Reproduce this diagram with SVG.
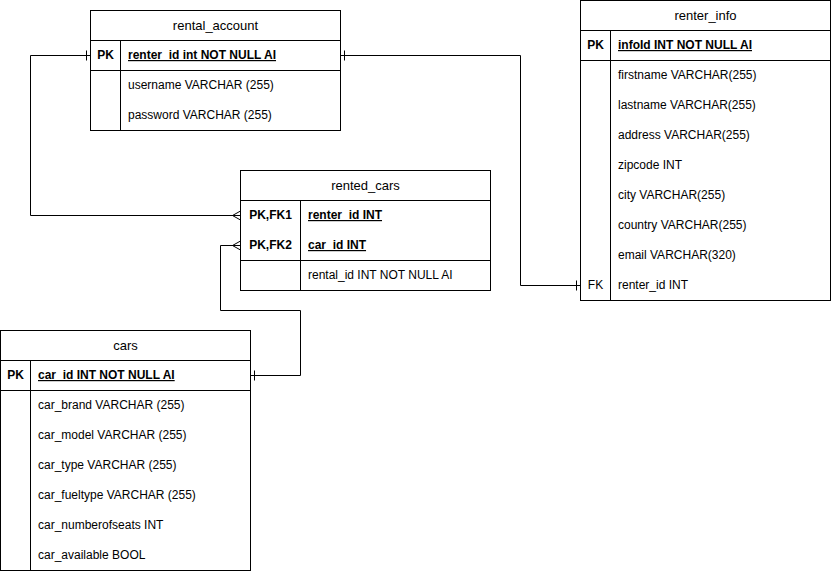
<svg xmlns="http://www.w3.org/2000/svg" width="831" height="571" viewBox="0 0 831 571">
<style>
.box{fill:#fff;stroke:#000;stroke-width:1}
.ln{stroke:#000;stroke-width:1;fill:none}
.t{font-family:"Liberation Sans",Arial,sans-serif;font-size:12px;fill:#000}
.h{font-family:"Liberation Sans",Arial,sans-serif;font-size:13px;fill:#000;text-anchor:middle}
.c{text-anchor:middle}
.b{font-weight:bold}
.u{text-decoration:underline}
.conn{stroke:#000;stroke-width:1;fill:none}
</style>
<defs>
<marker id="one" markerUnits="userSpaceOnUse" markerWidth="20" markerHeight="20" refX="10" refY="10" orient="auto-start-reverse">
<path d="M6,5 V15" stroke="#000" stroke-width="1" fill="none"/>
</marker>
<marker id="many" markerUnits="userSpaceOnUse" markerWidth="20" markerHeight="20" refX="10" refY="10" orient="auto-start-reverse">
<path d="M10,5.5 L2,10 L10,14.5" stroke="#000" stroke-width="1" fill="none"/>
</marker>
</defs>
<rect width="831" height="571" fill="#fff"/>

<g id="connectors">
<path class="conn" d="M90.5,55.5 H30.5 V215.5 H240.5" marker-start="url(#one)" marker-end="url(#many)"/>
<path class="conn" d="M340.5,55.5 H520.5 V285.5 H580.5" marker-start="url(#one)" marker-end="url(#one)"/>
<path class="conn" d="M250.5,375.5 H300.5 V310.5 H220.5 V245.5 H240.5" marker-start="url(#one)" marker-end="url(#many)"/>
</g>

<g id="rental_account">
<rect class="box" x="90.5" y="10.5" width="250" height="120"/>
<path class="ln" d="M90.5,40.5 H340.5 M90.5,70.5 H340.5 M120.5,40.5 V130.5"/>
<text class="h" x="215.5" y="29.5">rental_account</text>
<text class="t c b" x="105.5" y="59">PK</text>
<text class="t b u" x="128" y="59">renter_id int NOT NULL AI</text>
<text class="t" x="128" y="89">username VARCHAR (255)</text>
<text class="t" x="128" y="119">password VARCHAR (255)</text>
</g>

<g id="rented_cars">
<rect class="box" x="240.5" y="170.5" width="250" height="120"/>
<path class="ln" d="M240.5,200.5 H490.5 M240.5,260.5 H490.5 M300.5,200.5 V290.5"/>
<text class="h" x="365.5" y="189.5">rented_cars</text>
<text class="t c b" x="270.5" y="219">PK,FK1</text>
<text class="t b u" x="308" y="219">renter_id INT</text>
<text class="t c b" x="270.5" y="249">PK,FK2</text>
<text class="t b u" x="308" y="249">car_id INT</text>
<text class="t" x="308" y="279">rental_id INT NOT NULL AI</text>
</g>

<g id="renter_info">
<rect class="box" x="580.5" y="0.5" width="250" height="300"/>
<path class="ln" d="M580.5,30.5 H830.5 M580.5,60.5 H830.5 M610.5,30.5 V300.5"/>
<text class="h" x="705.5" y="19.5">renter_info</text>
<text class="t c b" x="595.5" y="49">PK</text>
<text class="t b u" x="618" y="49">infoId INT NOT NULL AI</text>
<text class="t" x="618" y="79">firstname VARCHAR(255)</text>
<text class="t" x="618" y="109">lastname VARCHAR(255)</text>
<text class="t" x="618" y="139">address VARCHAR(255)</text>
<text class="t" x="618" y="169">zipcode INT</text>
<text class="t" x="618" y="199">city VARCHAR(255)</text>
<text class="t" x="618" y="229">country VARCHAR(255)</text>
<text class="t" x="618" y="259">email VARCHAR(320)</text>
<text class="t c" x="595.5" y="289">FK</text>
<text class="t" x="618" y="289">renter_id INT</text>
</g>

<g id="cars">
<rect class="box" x="0.5" y="330.5" width="250" height="240"/>
<path class="ln" d="M0.5,360.5 H250.5 M0.5,390.5 H250.5 M30.5,360.5 V570.5"/>
<text class="h" x="125.5" y="349.5">cars</text>
<text class="t c b" x="15.5" y="379">PK</text>
<text class="t b u" x="38" y="379">car_id INT NOT NULL AI</text>
<text class="t" x="38" y="409">car_brand VARCHAR (255)</text>
<text class="t" x="38" y="439">car_model VARCHAR (255)</text>
<text class="t" x="38" y="469">car_type VARCHAR (255)</text>
<text class="t" x="38" y="499">car_fueltype VARCHAR (255)</text>
<text class="t" x="38" y="529">car_numberofseats INT</text>
<text class="t" x="38" y="559">car_available BOOL</text>
</g>
</svg>
